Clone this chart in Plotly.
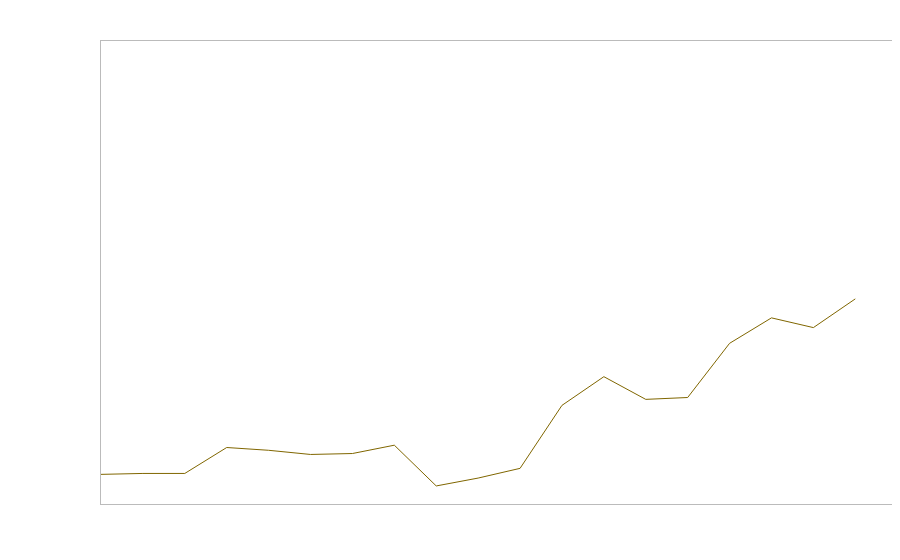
import plotly.graph_objects as go

x_index = list(range(19))
values = [6.4, 6.6, 6.6, 12.2, 11.6, 10.7, 10.9, 12.7, 3.9, 5.6, 7.7,
          21.3, 27.5, 22.6, 23.0, 34.7, 40.2, 38.1, 44.3]

fig = go.Figure()
fig.add_trace(go.Scatter(x=x_index, y=values, mode="lines",
                         line=dict(color="#806600", width=1), showlegend=False,
                         hoverinfo="skip"))
fig.update_layout(
    width=900, height=560,
    margin=dict(l=93, r=15, t=33, b=64),
    paper_bgcolor="white", plot_bgcolor="white",
    xaxis=dict(range=[0, 18.9], showgrid=False, zeroline=False, showticklabels=False,
               ticks="", showline=True, linecolor="#bbbbbb", linewidth=1, mirror=True),
    yaxis=dict(range=[0, 100], showgrid=False, zeroline=False, showticklabels=False,
               ticks="", showline=True, linecolor="#bbbbbb", linewidth=1, mirror=True),
)
fig.write_html("out.html")
